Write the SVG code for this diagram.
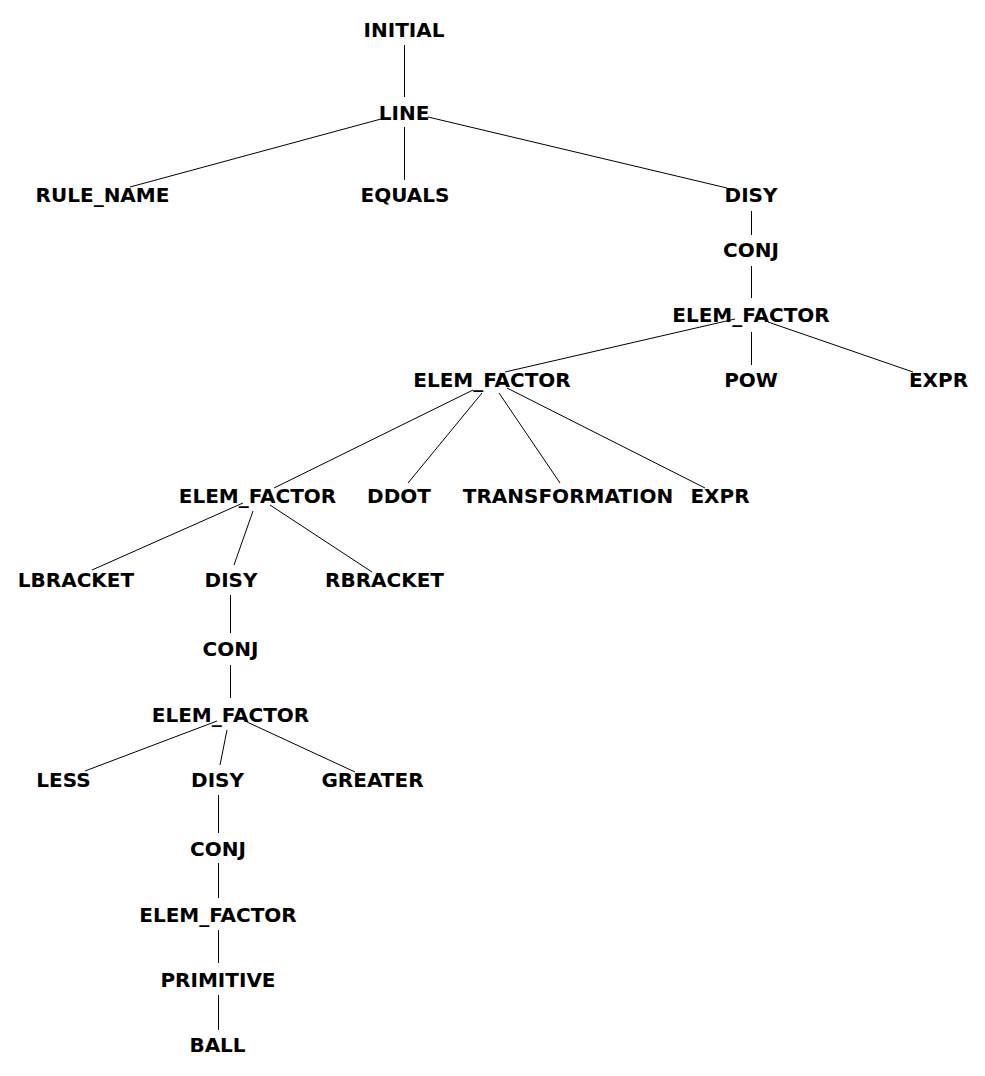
<svg xmlns="http://www.w3.org/2000/svg" width="985" height="1076" viewBox="0 0 985 1076">
<style>
.n text{font-family:"DejaVu Sans",sans-serif;font-weight:bold;font-size:20px;fill:#000;text-anchor:middle}
#edges line{stroke:#000;stroke-width:1;fill:none}
</style>
<rect x="0" y="0" width="985" height="1076" fill="#fff"/>
<g id="edges">
<line x1="404.5" y1="45" x2="404.5" y2="97"/>
<line x1="381" y1="119" x2="130" y2="187"/>
<line x1="404.5" y1="127" x2="404.5" y2="180"/>
<line x1="428" y1="117" x2="727" y2="188"/>
<line x1="751.5" y1="211" x2="751.5" y2="235"/>
<line x1="751.5" y1="266" x2="751.5" y2="298"/>
<line x1="735" y1="319" x2="505" y2="372"/>
<line x1="751.5" y1="332" x2="751.5" y2="365"/>
<line x1="768" y1="322" x2="913" y2="372"/>
<line x1="473" y1="390" x2="274" y2="488"/>
<line x1="482" y1="393" x2="408" y2="483"/>
<line x1="499" y1="393" x2="560" y2="483"/>
<line x1="507" y1="388" x2="705" y2="488"/>
<line x1="243" y1="503" x2="92" y2="570"/>
<line x1="253" y1="511" x2="234" y2="565"/>
<line x1="270" y1="505" x2="372" y2="572"/>
<line x1="230.5" y1="595" x2="230.5" y2="633"/>
<line x1="230.5" y1="665" x2="230.5" y2="698"/>
<line x1="217" y1="721" x2="85" y2="771"/>
<line x1="227" y1="730" x2="220" y2="765"/>
<line x1="247" y1="722" x2="355" y2="772"/>
<line x1="218.5" y1="795" x2="218.5" y2="833"/>
<line x1="218.5" y1="863" x2="218.5" y2="898"/>
<line x1="218.5" y1="930" x2="218.5" y2="963"/>
<line x1="218.5" y1="995" x2="218.5" y2="1030"/>
</g>
<g id="n_initial" class="n"><text x="404" y="37">INITIAL</text></g>
<g id="n_line" class="n"><text x="404" y="120">LINE</text></g>
<g id="n_rule_name" class="n"><text x="102.5" y="202">RULE_NAME</text></g>
<g id="n_equals" class="n"><text x="405" y="202">EQUALS</text></g>
<g id="n_disy1" class="n"><text x="751" y="202">DISY</text></g>
<g id="n_conj1" class="n"><text x="751" y="257">CONJ</text></g>
<g id="n_ef1" class="n"><text x="751" y="322">ELEM_FACTOR</text></g>
<g id="n_ef2" class="n"><text x="492" y="387">ELEM_FACTOR</text></g>
<g id="n_pow" class="n"><text x="751" y="387">POW</text></g>
<g id="n_expr1" class="n"><text x="938.5" y="387">EXPR</text></g>
<g id="n_ef3" class="n"><text x="257.5" y="503">ELEM_FACTOR</text></g>
<g id="n_ddot" class="n"><text x="399" y="503">DDOT</text></g>
<g id="n_transformation" class="n"><text x="568" y="503">TRANSFORMATION</text></g>
<g id="n_expr2" class="n"><text x="720" y="503">EXPR</text></g>
<g id="n_lbracket" class="n"><text x="76" y="587">LBRACKET</text></g>
<g id="n_disy2" class="n"><text x="231" y="587">DISY</text></g>
<g id="n_rbracket" class="n"><text x="384.5" y="587">RBRACKET</text></g>
<g id="n_conj2" class="n"><text x="230.5" y="656">CONJ</text></g>
<g id="n_ef4" class="n"><text x="230.5" y="722">ELEM_FACTOR</text></g>
<g id="n_less" class="n"><text x="63.5" y="787">LESS</text></g>
<g id="n_disy3" class="n"><text x="217.5" y="787">DISY</text></g>
<g id="n_greater" class="n"><text x="372.5" y="787">GREATER</text></g>
<g id="n_conj3" class="n"><text x="218" y="856">CONJ</text></g>
<g id="n_ef5" class="n"><text x="218" y="922">ELEM_FACTOR</text></g>
<g id="n_primitive" class="n"><text x="218" y="987">PRIMITIVE</text></g>
<g id="n_ball" class="n"><text x="217.5" y="1052">BALL</text></g>
</svg>
